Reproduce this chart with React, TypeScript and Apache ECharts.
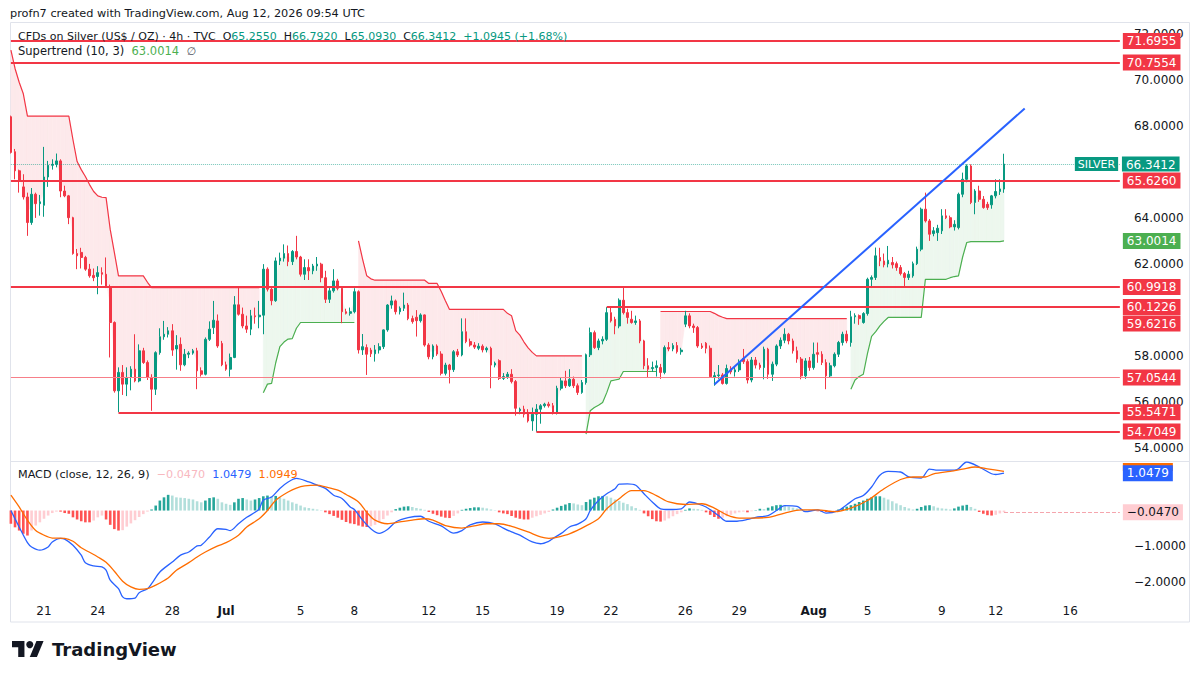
import React, { useEffect, useRef } from "react";
import * as echarts from "echarts";

const FONT = "DejaVu Sans";
const UP = "#089981";
const DOWN = "#f23645";
const TEXT = "#131722";

// Silver CFD, 4h bars, Jun 18 16:00 UTC .. Aug 12 08:00 UTC — [open, high, low, close]
const ohlc: number[][] = [
  [68.40,68.45,66.80,66.85],[66.88,67.00,65.68,66.05],[66.05,66.10,65.10,65.60],[65.35,65.90,64.80,64.91],[64.91,65.10,63.22,63.80],
  [63.80,65.30,63.70,65.03],[65.03,65.10,64.00,64.62],[64.62,65.00,64.10,64.70],[64.55,67.09,64.05,65.78],[65.78,66.48,65.35,66.29],
  [66.29,66.55,66.10,66.33],[66.33,66.80,66.20,66.48],[66.48,66.55,64.90,65.17],[65.17,65.40,64.90,64.96],[64.96,65.00,63.73,64.01],
  [64.01,64.05,62.40,62.45],[62.45,62.65,61.77,62.35],[62.50,62.70,61.80,62.28],[62.28,62.35,61.70,61.77],[61.77,62.00,61.40,61.48],
  [61.50,61.80,61.25,61.40],[61.45,61.90,60.68,61.62],[61.62,61.85,61.10,61.55],[61.55,62.28,60.95,60.97],[60.97,61.10,57.93,59.45],
  [59.45,59.50,56.40,56.48],[56.48,57.50,55.55,57.28],[57.28,57.60,56.30,56.77],[56.77,57.50,56.25,57.06],[57.06,57.55,56.50,57.42],
  [57.42,58.94,56.85,56.91],[56.91,58.50,56.85,58.22],[58.22,58.35,57.65,57.71],[57.71,57.80,56.95,57.06],[57.06,57.20,55.61,56.55],
  [56.55,58.20,56.30,58.14],[58.14,59.20,58.05,58.83],[58.83,59.52,58.70,58.94],[58.94,59.25,58.80,59.09],[59.09,59.38,58.00,58.25],
  [58.30,58.90,57.40,58.45],[58.50,58.80,57.35,57.61],[57.61,58.30,57.55,58.07],[58.07,58.20,57.90,58.12],[58.12,58.30,58.05,58.22],
  [58.22,58.35,56.55,57.35],[57.35,57.50,57.10,57.20],[57.20,58.80,57.15,58.72],[58.72,59.50,58.65,59.16],[59.23,60.39,58.95,59.55],
  [59.52,59.80,58.35,58.43],[58.54,58.65,57.55,57.61],[57.61,57.75,57.35,57.42],[57.42,58.10,57.10,57.93],[57.93,60.60,57.90,60.22],
  [60.22,60.95,59.75,59.81],[59.81,60.10,59.20,59.30],[59.30,59.75,59.00,59.16],[59.16,60.00,58.90,59.74],[59.74,60.10,59.40,59.70],
  [59.70,60.39,59.20,59.77],[59.77,61.99,58.94,61.77],[61.77,61.85,60.80,60.90],[60.90,60.95,60.20,60.40],[60.40,62.28,60.35,62.13],
  [62.13,62.49,61.95,62.25],[62.25,62.85,62.10,62.45],[62.45,62.80,61.90,62.10],[62.10,62.60,61.95,62.54],[62.54,63.22,62.20,62.30],
  [62.30,62.35,61.45,61.55],[61.55,62.20,61.30,61.84],[61.84,62.20,61.30,61.70],[61.70,62.00,61.55,61.91],[61.91,62.30,61.70,61.99],
  [61.99,62.05,61.20,61.40],[61.40,61.70,60.30,60.46],[60.46,60.95,60.30,60.83],[60.83,61.77,60.75,61.26],[61.26,61.35,60.85,60.94],
  [60.94,61.00,59.42,59.92],[59.92,60.05,59.80,59.85],[59.85,60.10,59.75,59.92],[59.92,60.94,59.85,60.79],[60.79,60.85,58.10,58.26],
  [58.26,58.95,58.04,58.40],[58.36,58.50,57.17,58.07],[58.25,58.35,57.95,58.09],[58.09,58.47,57.75,58.26],[58.26,58.55,58.10,58.40],
  [58.40,59.15,58.30,59.13],[59.13,60.25,59.05,60.21],[60.21,60.62,60.05,60.39],[60.39,60.45,59.80,59.92],[59.92,60.15,59.80,60.07],
  [60.07,60.75,59.95,60.21],[60.21,60.30,59.55,59.62],[59.62,59.75,59.40,59.49],[59.68,59.99,58.84,59.53],[59.53,59.85,59.45,59.78],
  [59.78,59.80,58.40,58.47],[58.47,58.55,57.85,57.96],[57.96,58.50,57.85,58.43],[58.43,58.50,58.00,58.08],[58.08,58.20,57.15,57.24],
  [57.24,57.70,57.15,57.60],[57.60,57.65,56.80,57.40],[57.40,58.25,57.30,58.18],[58.18,58.30,57.95,58.04],[58.04,59.63,57.98,59.05],
  [59.05,59.63,58.55,58.62],[58.62,58.75,58.40,58.47],[58.47,58.60,58.30,58.38],[58.33,58.55,58.25,58.42],[58.42,58.50,58.15,58.26],
  [58.26,58.40,58.15,58.33],[58.33,58.40,56.59,57.60],[57.60,57.75,57.50,57.68],[57.79,57.85,56.95,57.02],[57.02,57.25,56.95,57.10],
  [57.10,57.30,57.00,57.20],[57.20,57.42,56.80,56.88],[56.88,56.95,55.40,55.72],[55.61,55.75,55.46,55.68],[55.68,55.83,55.32,55.46],
  [55.54,55.68,55.10,55.17],[55.17,55.75,54.74,55.46],[55.46,55.90,54.70,55.68],[55.68,55.90,55.05,55.83],[55.83,55.96,55.75,55.90],
  [55.90,56.00,55.75,55.83],[55.83,55.95,55.45,55.50],[55.50,56.70,55.45,56.59],[56.59,57.05,56.50,56.91],[56.91,57.35,56.60,56.70],
  [56.70,57.42,56.65,56.98],[56.98,57.10,56.60,56.70],[56.70,56.80,56.30,56.41],[56.41,56.95,56.35,56.84],[56.84,58.10,56.75,58.05],
  [58.05,59.23,57.95,59.01],[59.01,59.10,58.30,58.36],[58.36,58.75,58.25,58.65],[58.65,58.85,58.50,58.72],[58.72,60.12,58.65,59.88],
  [59.88,60.10,59.45,59.52],[59.59,59.70,58.94,59.30],[59.30,60.50,59.20,60.42],[60.42,60.95,59.80,59.88],[59.88,60.05,59.40,59.67],
  [59.59,59.96,59.40,59.45],[59.45,59.75,59.35,59.52],[59.52,59.60,58.55,58.65],[58.65,58.70,57.42,57.57],[57.57,57.90,57.05,57.42],
  [57.45,57.75,57.30,57.49],[57.49,57.80,57.10,57.57],[57.49,57.65,57.00,57.28],[57.28,58.45,57.20,58.36],[58.36,58.60,58.20,58.30],
  [58.30,58.55,58.20,58.45],[58.45,58.60,58.10,58.18],[58.18,58.35,58.05,58.25],[59.38,59.96,59.25,59.74],[59.74,59.85,59.20,59.30],
  [59.30,59.40,59.00,59.23],[59.23,59.30,58.35,58.43],[58.43,58.55,58.30,58.36],[58.55,58.60,58.11,58.33],[58.33,58.45,57.05,57.10],
  [57.07,57.30,56.70,57.14],[57.14,57.60,57.00,57.17],[57.17,57.25,56.75,56.80],[56.80,57.62,56.75,57.45],[57.45,57.55,57.20,57.30],
  [57.30,57.55,57.10,57.39],[57.39,57.85,57.30,57.75],[57.89,58.30,57.65,57.75],[57.75,57.85,56.80,56.95],[56.95,57.95,56.85,57.82],
  [57.82,57.95,57.45,57.60],[57.60,57.70,57.40,57.49],[57.49,58.40,56.98,58.29],[58.29,58.35,57.00,57.20],[57.20,57.75,56.91,57.64],
  [57.64,58.50,57.55,58.43],[58.43,58.80,58.30,58.68],[58.68,59.20,58.55,58.94],[58.94,59.00,58.50,58.65],[58.65,58.75,58.10,58.22],
  [58.22,58.40,57.70,57.86],[57.86,57.95,56.98,57.13],[57.13,57.90,57.00,57.78],[57.78,57.95,57.35,57.49],[57.49,58.58,57.40,58.07],
  [58.14,58.58,57.70,58.07],[58.07,58.20,57.60,57.71],[57.71,57.85,56.55,57.13],[57.13,57.70,57.05,57.57],[57.57,58.15,57.50,58.07],
  [58.07,58.65,57.95,58.58],[58.58,59.05,58.45,58.94],[58.94,59.10,58.55,58.65],[58.58,59.96,58.40,59.70],[59.70,59.85,59.40,59.75],
  [59.75,59.80,59.35,59.62],[59.45,59.90,59.40,59.84],[59.84,61.40,59.75,61.33],[61.33,61.50,60.95,61.41],[61.41,62.71,61.30,62.35],
  [62.28,62.70,61.90,62.13],[62.13,62.45,61.85,61.96],[62.00,62.78,61.85,62.16],[62.06,62.30,61.80,61.96],[62.01,62.10,61.70,61.84],
  [61.84,61.95,61.50,61.58],[61.58,61.65,60.97,61.41],[61.41,61.70,61.30,61.55],[61.48,62.10,61.40,62.01],[62.01,62.75,61.95,62.64],
  [62.64,64.45,62.55,64.38],[64.38,65.10,63.80,63.87],[63.87,63.95,63.00,63.29],[63.32,63.60,63.20,63.44],[63.36,63.70,63.00,63.55],
  [63.44,64.38,63.30,64.09],[64.09,64.38,63.95,64.01],[64.01,64.10,63.55,63.61],[63.61,63.90,63.45,63.72],[63.58,65.10,63.50,65.03],
  [65.03,65.97,64.90,65.68],[65.68,66.33,65.55,66.26],[66.26,66.33,64.60,64.67],[64.67,65.25,64.16,65.17],[65.17,65.40,64.70,64.81],
  [64.81,64.95,64.40,64.45],[64.59,64.70,64.35,64.45],[64.57,65.00,64.40,64.96],[64.96,65.68,64.85,65.15],[65.15,65.68,65.00,65.26],
  [65.255,66.792,65.093,66.3412],
];

// Supertrend (10, 3), one value per bar
const supertrend: number[] = [
  71.30,70.50,69.90,69.40,68.43,68.43,68.43,68.43,68.43,68.43,68.43,68.43,68.43,68.43,68.43,
  67.40,66.45,66.10,65.80,65.45,65.15,64.96,64.90,64.88,63.50,62.50,61.48,
  61.48,61.48,61.48,61.48,61.48,61.48,61.20,
  60.97,60.97,60.97,60.97,60.97,60.97,60.97,60.97,60.97,60.97,60.97,60.97,60.97,60.97,60.97,60.97,60.97,60.97,60.97,60.97,60.97,60.97,60.97,60.97,60.97,60.97,60.97,
  56.40,56.77,56.80,57.70,58.40,58.60,58.73,58.75,59.20,
  59.45,59.45,59.45,59.45,59.45,59.45,59.45,59.45,59.45,59.45,59.45,59.45,59.45,59.45,
  63.00,62.20,61.48,61.35,
  61.29,61.29,61.29,61.29,61.29,61.29,61.29,61.29,61.29,61.29,61.29,61.29,61.29,
  61.15,61.15,61.15,60.80,60.40,
  60.02,60.02,60.02,60.02,60.02,60.02,60.02,60.02,60.02,60.02,60.02,60.02,60.02,60.02,
  59.85,59.74,59.10,58.90,58.60,58.35,58.15,
  58.00,58.00,58.00,58.00,58.00,58.00,58.00,58.00,58.00,58.00,58.00,58.00,
  54.60,55.61,55.75,55.85,55.97,56.40,56.91,56.95,56.99,
  57.32,57.32,57.32,57.32,57.32,57.32,57.32,57.32,57.32,
  59.93,59.93,59.93,59.93,59.93,59.93,59.93,59.93,59.93,59.93,59.93,59.93,59.93,
  59.85,59.75,59.68,
  59.62,59.62,59.62,59.62,59.62,59.62,59.62,59.62,59.62,59.62,59.62,59.62,59.62,59.62,59.62,
  59.62,59.62,59.62,59.62,59.62,59.62,59.62,59.62,59.62,59.62,59.62,59.62,59.62,59.62,59.62,
  56.55,56.95,57.10,57.20,58.10,58.85,59.05,59.30,59.50,
  59.67,59.67,59.67,59.67,59.67,59.67,59.67,59.67,59.67,
  61.33,61.33,61.33,61.33,61.33,61.33,
  61.40,61.45,61.48,62.30,62.93,
  62.97,62.97,62.97,62.97,62.97,62.97,62.97,62.97,
  63.0014,
];

// MACD histogram, one value per bar
const macdHist: number[] = [
  -0.37,-0.47,-0.56,-0.65,-0.70,-0.56,-0.42,-0.33,-0.23,-0.14,-0.07,-0.03,
  -0.03,-0.07,-0.09,-0.19,-0.25,-0.30,-0.33,-0.33,-0.28,-0.19,-0.14,
  -0.25,-0.40,-0.52,-0.56,-0.55,-0.45,-0.36,-0.27,-0.18,-0.10,-0.03,
  0.03,0.14,0.28,0.37,0.44,0.42,0.37,0.36,0.35,0.33,0.31,0.26,0.23,
  0.28,0.35,0.37,0.33,0.23,0.19,0.16,0.23,0.33,0.35,0.31,0.28,0.31,
  0.35,0.40,0.42,0.40,0.41,0.37,0.33,0.28,0.23,0.19,0.14,0.09,0.07,0.05,0.03,0.01,
  -0.05,-0.10,-0.15,-0.20,-0.26,-0.32,-0.36,-0.38,-0.42,-0.45,-0.46,-0.44,-0.40,-0.33,-0.24,-0.14,-0.05,
  0.04,0.08,0.11,0.12,0.10,0.07,0.05,0.02,
  -0.04,-0.09,-0.13,-0.17,-0.20,-0.21,-0.15,-0.08,
  0.02,0.05,0.07,0.09,0.09,0.08,0.06,0.03,0.01,
  -0.05,-0.08,-0.10,-0.15,-0.20,-0.23,-0.25,-0.25,-0.20,-0.16,-0.12,-0.08,-0.04,
  0.03,0.08,0.13,0.17,0.21,0.20,0.17,0.15,
  0.24,0.31,0.36,0.40,0.41,0.40,0.36,0.31,0.27,0.22,0.18,0.12,0.07,0.02,
  -0.08,-0.16,-0.24,-0.30,-0.31,-0.28,-0.22,-0.16,-0.10,-0.05,
  0.02,0.06,0.05,0.04,0.02,
  -0.05,-0.12,-0.18,-0.23,-0.20,-0.16,-0.12,-0.08,-0.05,-0.03,
  -0.05,-0.02,0.01,
  0.05,0.04,0.08,0.12,0.15,0.16,0.14,0.11,0.08,0.06,0.04,0.02,0.01,0.01,
  -0.02,-0.03,-0.04,-0.03,-0.01,
  0.03,0.07,0.11,0.15,0.19,0.24,0.28,0.33,0.37,0.40,0.40,
  0.36,0.31,0.26,0.20,0.15,0.10,0.06,0.03,0.05,
  0.10,0.14,0.15,0.12,0.08,0.06,0.05,0.03,
  0.06,0.11,0.14,0.16,0.10,0.05,
  -0.04,-0.09,-0.13,-0.14,-0.12,-0.08,-0.047,
];

// MACD line and signal line, [bar, value]
const macdLine: number[][] = [
  [0,0.0],[2,-0.46],[4,-0.90],[5,-1.02],[7,-1.11],[9,-1.02],[10,-0.88],[12,-0.78],[13,-0.80],[15,-0.97],[17,-1.25],[18,-1.46],
  [20,-1.55],[22,-1.58],[23,-1.67],[24,-1.95],[26,-2.19],[27,-2.42],[28,-2.47],[30,-2.45],[31,-2.30],[33,-2.19],[34,-2.05],
  [36,-1.72],[39,-1.44],[41,-1.25],[43,-1.16],[45,-0.99],[46,-0.97],[48,-0.74],[50,-0.51],[52,-0.53],[53,-0.56],[55,-0.37],
  [57,-0.19],[59,-0.05],[60,0.05],[61,0.29],[63,0.38],[65,0.62],[67,0.80],[69,0.90],[72,0.80],[74,0.71],[76,0.62],[78,0.43],
  [80,0.34],[82,0.10],[83,0.03],[85,-0.27],[87,-0.51],[89,-0.64],[91,-0.53],[93,-0.32],[96,-0.20],[99,-0.16],[101,-0.30],
  [104,-0.43],[107,-0.63],[109,-0.56],[111,-0.40],[114,-0.32],[117,-0.37],[119,-0.49],[121,-0.60],[123,-0.69],[126,-0.88],
  [128,-0.93],[130,-0.86],[131,-0.78],[133,-0.64],[135,-0.46],[137,-0.38],[139,-0.23],[140,0.0],[142,0.28],[144,0.47],
  [146,0.61],[147,0.74],[149,0.75],[151,0.71],[153,0.47],[155,0.24],[157,0.05],[159,0.03],[162,0.05],[164,0.24],[166,0.19],
  [168,0.10],[171,-0.14],[173,-0.30],[175,-0.30],[178,-0.25],[180,-0.19],[183,-0.14],[185,0.0],[187,0.14],[190,0.12],
  [192,-0.03],[195,0.02],[197,-0.07],[200,0.0],[202,0.16],[204,0.33],[206,0.42],[208,0.66],[210,0.99],[212,1.10],[215,1.08],
  [217,0.94],[220,0.91],[222,1.16],[224,1.13],[228,1.13],[229,1.17],[231,1.36],[234,1.22],[237,1.03],[238,1.01],[240,1.0479],
];
const signalLine: number[][] = [
  [0,0.43],[2,0.10],[4,-0.27],[6,-0.56],[8,-0.69],[10,-0.77],[13,-0.78],[15,-0.86],[17,-1.04],[20,-1.23],[21,-1.30],[23,-1.45],
  [25,-1.70],[27,-1.98],[29,-2.14],[31,-2.21],[33,-2.19],[35,-2.09],[38,-1.89],[40,-1.67],[43,-1.46],[45,-1.30],[47,-1.16],
  [50,-0.99],[52,-0.90],[55,-0.69],[57,-0.46],[60,-0.23],[62,0.0],[64,0.29],[67,0.52],[69,0.63],[71,0.69],[74,0.71],[76,0.66],
  [79,0.57],[81,0.45],[84,0.24],[86,-0.05],[88,-0.27],[91,-0.37],[94,-0.32],[97,-0.27],[100,-0.23],[102,-0.27],[105,-0.42],
  [109,-0.49],[112,-0.43],[115,-0.37],[118,-0.37],[121,-0.44],[125,-0.60],[128,-0.74],[130,-0.78],[134,-0.69],[137,-0.55],
  [139,-0.43],[142,-0.23],[144,0.05],[147,0.33],[150,0.56],[153,0.56],[156,0.42],[159,0.24],[163,0.17],[167,0.19],[170,0.07],
  [173,-0.12],[176,-0.21],[179,-0.21],[183,-0.19],[187,-0.07],[191,0.02],[195,0.02],[199,-0.03],[203,0.07],[207,0.28],
  [211,0.61],[215,0.87],[218,0.94],[221,0.94],[223,1.03],[227,1.10],[230,1.16],[233,1.22],[236,1.17],[240,1.0949],
];

// Horizontal levels drawn on the chart and the bar each one starts from
const levelValues = [71.6955, 70.7554, 65.626, 60.9918, 60.1226, 57.0544, 55.5471, 54.7049];
const levelStartBars = [0, 0, 0, 0, 144, 0, 26, 127];
const trendLine: number[][] = [[170, 56.75], [245, 68.76]];
const lastPrice = 66.3412;
const supertrendLast = 63.0014;
const extraLevel = 59.6216;
const macdLast = 1.0479;
const signalLast = 1.0949;
const histLast = -0.047;

const priceTicks = [54, 56, 58, 62, 64, 68, 70, 72];
const macdTicks = [-1, -2];
const MONTHS = ["Jan","Feb","Mar","Apr","May","Jun","Jul","Aug","Sep","Oct","Nov","Dec"];

const FIRST_BAR = Date.UTC(2026, 5, 18, 16);
const SLOT_COUNT = 269;

function buildBarTimes(): number[] {
  const out: number[] = [];
  let t = FIRST_BAR;
  while (out.length < SLOT_COUNT) {
    const d = new Date(t);
    const dow = d.getUTCDay();
    const h = d.getUTCHours();
    const open = dow === 6 ? false : dow === 0 ? h >= 20 : true;
    if (open) out.push(t);
    t += 4 * 3600 * 1000;
  }
  return out;
}

const barTimes = buildBarTimes();
const categories = barTimes.map(String);
const LAST_SLOT = SLOT_COUNT - 1;
const LAST_BAR = ohlc.length - 1;
const HIDDEN_LINE = { color: "rgba(0,0,0,0)", width: 1, type: "solid" };

function isLabelBar(ms: number) {
  const d = new Date(ms);
  const dow = d.getUTCDay();
  const h = d.getUTCHours();
  return (dow === 0 && h === 20) || (dow === 3 && h === 0);
}
function timeLabel(ms: number) {
  const d = new Date(ms);
  const day = d.getUTCDate();
  const gap = d.getUTCDay() === 0 ? 4 : 3;
  return day <= gap ? `{m|${MONTHS[d.getUTCMonth()]}}` : String(day);
}

function boxLabel(bg: string, fg: string, text: string, offsetY = 0) {
  return {
    show: true,
    position: "end",
    distance: 3,
    formatter: text,
    backgroundColor: bg,
    color: fg,
    opacity: 1,
    padding: [2, 4, 1, 4],
    fontSize: 12,
    lineHeight: 13,
    fontFamily: FONT,
    offset: [0, offsetY],
  };
}

export default function App() {
  const ref = useRef<HTMLDivElement>(null);

  useEffect(() => {
    if (!ref.current) return;
    const chart = echarts.init(ref.current, null, { renderer: "svg" });

    const closes = ohlc.map((r) => r[3]);
    const mids = ohlc.map((r) => (r[0] + r[3]) / 2);
    const dir = supertrend.map((s, i) => (s > closes[i] ? -1 : 1));
    const stDown = supertrend.map((s, i) => (dir[i] === -1 ? s : null));
    const stUp = supertrend.map((s, i) => (dir[i] === 1 ? s : null));

    const histData = macdHist.map((h, i) => {
      const prev = i > 0 ? macdHist[i - 1] : h;
      let c;
      if (h >= 0) c = h >= prev ? "#26a69a" : "#b2dfdb";
      else c = h <= prev ? "#ff5252" : "#ffcdd2";
      return { value: h, itemStyle: { color: c } };
    });

    const levelLines = levelValues.map((v, k) => {
      const thin = v === 57.0544;
      return [
        {
          coord: [levelStartBars[k], v],
          lineStyle: { color: thin ? "#f77f89" : DOWN, width: thin ? 1 : 2, type: "solid" },
          label: boxLabel(DOWN, "#ffffff", v.toFixed(4)),
        },
        { coord: [LAST_SLOT, v] },
      ];
    });

    const mainMarks = [
      ...levelLines,
      [
        { coord: [LAST_BAR, extraLevel], lineStyle: HIDDEN_LINE, label: boxLabel(DOWN, "#ffffff", extraLevel.toFixed(4), 5) },
        { coord: [LAST_SLOT, extraLevel] },
      ],
      [
        { coord: [LAST_BAR, supertrendLast], lineStyle: HIDDEN_LINE, label: boxLabel("#4caf50", "#ffffff", supertrendLast.toFixed(4)) },
        { coord: [LAST_SLOT, supertrendLast] },
      ],
      [
        {
          coord: [0, lastPrice],
          lineStyle: { color: "rgba(8,153,129,0.55)", width: 1, type: "dotted" },
          label: {
            show: true,
            position: "end",
            distance: 3,
            offset: [-48, 0],
            formatter: `{s|SILVER} {v|${lastPrice.toFixed(4)}}`,
            rich: {
              s: { backgroundColor: UP, color: "#fff", padding: [2, 3, 1, 3], fontSize: 11, lineHeight: 13, fontFamily: FONT },
              v: { backgroundColor: UP, color: "#fff", padding: [2, 4, 1, 4], fontSize: 12, lineHeight: 13, fontFamily: FONT },
            },
          },
        },
        { coord: [LAST_SLOT, lastPrice] },
      ],
      [
        { coord: trendLine[0], lineStyle: { color: "#2962ff", width: 2, type: "solid" }, label: { show: false } },
        { coord: trendLine[1] },
      ],
    ];

    const macdMarks = [
      [
        {
          coord: [LAST_BAR, signalLast],
          lineStyle: HIDDEN_LINE,
          label: {
            show: true,
            position: "end",
            distance: 3,
            offset: [0, -4.5],
            formatter: "{a| }",
            rich: { a: { width: 50, height: 8, lineHeight: 8, fontSize: 6, backgroundColor: "#ff6d00" } },
          },
        },
        { coord: [LAST_SLOT, signalLast] },
      ],
      [
        { coord: [LAST_BAR, macdLast], lineStyle: HIDDEN_LINE, label: boxLabel("#2962ff", "#ffffff", macdLast.toFixed(4)) },
        { coord: [LAST_SLOT, macdLast] },
      ],
      [
        {
          coord: [LAST_BAR, histLast],
          lineStyle: { color: "#f5a5ad", width: 1, type: "dashed" },
          label: boxLabel("#ffcdd2", TEXT, "\u2212" + Math.abs(histLast).toFixed(4)),
        },
        { coord: [LAST_SLOT, histLast] },
      ],
    ];

    const gridBase = { left: 8.83, width: 1113.1, outerBoundsMode: "none", containLabel: false };
    const hiddenX = (i: number) => ({
      type: "category",
      gridIndex: i,
      data: categories,
      boundaryGap: true,
      axisLine: { show: false },
      axisTick: { show: false },
      splitLine: { show: false },
      axisLabel: { show: false },
    });

    const option: any = {
      animation: false,
      backgroundColor: "#ffffff",
      textStyle: { fontFamily: FONT },
      grid: [
        { ...gridBase, top: 27.1, height: 466.7 },
        { ...gridBase, top: 462, height: 155.65 },
        { ...gridBase, top: 602, height: 1 },
      ],
      xAxis: [
        hiddenX(0),
        hiddenX(1),
        {
          ...hiddenX(2),
          axisLabel: {
            show: true,
            margin: 2,
            color: TEXT,
            fontSize: 12,
            fontFamily: FONT,
            interval: (index: number) => isLabelBar(barTimes[index]),
            formatter: (value: string) => timeLabel(Number(value)),
            rich: { m: { fontWeight: "bold", fontSize: 12, fontFamily: FONT, color: TEXT } },
          },
        },
      ],
      yAxis: [
        {
          type: "value",
          gridIndex: 0,
          position: "right",
          min: 52,
          max: 72.3,
          interval: 2,
          axisLine: { show: false },
          axisTick: { show: false },
          splitLine: { show: false },
          axisLabel: {
            margin: 12,
            color: TEXT,
            fontSize: 12,
            fontFamily: FONT,
            formatter: (v: number) => (priceTicks.some((t) => Math.abs(t - v) < 1e-6) ? v.toFixed(4) : ""),
          },
        },
        {
          type: "value",
          gridIndex: 1,
          position: "right",
          min: -3,
          max: 1.36,
          interval: 1,
          axisLine: { show: false },
          axisTick: { show: false },
          splitLine: { show: false },
          axisLabel: {
            margin: 12,
            color: TEXT,
            fontSize: 12,
            fontFamily: FONT,
            formatter: (v: number) =>
              macdTicks.some((t) => Math.abs(t - v) < 1e-6) ? "\u2212" + Math.abs(v).toFixed(4) : "",
          },
        },
        { type: "value", gridIndex: 2, show: false },
      ],
      series: [
        {
          type: "custom",
          xAxisIndex: 0,
          yAxisIndex: 0,
          z: 1,
          silent: true,
          data: supertrend.map((s, i) => [i, s]),
          encode: { x: 0, y: 1 },
          renderItem: (params: any, api: any) => {
            const i = params.dataIndex;
            if (i >= supertrend.length - 1) return null;
            if (dir[i] !== dir[i + 1]) return null;
            const p0 = api.coord([i, supertrend[i]]);
            const p1 = api.coord([i + 1, supertrend[i + 1]]);
            const p2 = api.coord([i + 1, mids[i + 1]]);
            const p3 = api.coord([i, mids[i]]);
            const col = dir[i] === 1 ? "#edf7ee" : "#fde9eb";
            return {
              type: "polygon",
              shape: { points: [p0, p1, p2, p3] },
              style: { fill: col, stroke: col, lineWidth: 0.6 },
            };
          },
        },
        {
          type: "line",
          xAxisIndex: 0,
          yAxisIndex: 0,
          z: 2,
          data: stDown,
          showSymbol: false,
          symbol: "none",
          connectNulls: false,
          lineStyle: { color: DOWN, width: 1.2 },
          silent: true,
        },
        {
          type: "line",
          xAxisIndex: 0,
          yAxisIndex: 0,
          z: 2,
          data: stUp,
          showSymbol: false,
          symbol: "none",
          connectNulls: false,
          lineStyle: { color: "#4caf50", width: 1.2 },
          silent: true,
        },
        {
          type: "candlestick",
          xAxisIndex: 0,
          yAxisIndex: 0,
          z: 3,
          barWidth: 2.2,
          data: ohlc.map((r) => [r[0], r[3], r[2], r[1]]),
          itemStyle: { color: UP, color0: DOWN, borderColor: UP, borderColor0: DOWN, borderWidth: 1 },
          silent: true,
          markLine: { symbol: ["none", "none"], silent: true, animation: false, data: mainMarks },
        },
        {
          type: "bar",
          xAxisIndex: 1,
          yAxisIndex: 1,
          barWidth: 2.6,
          data: histData,
          silent: true,
          markLine: { symbol: ["none", "none"], silent: true, animation: false, data: macdMarks },
        },
        {
          type: "line",
          xAxisIndex: 1,
          yAxisIndex: 1,
          data: macdLine,
          showSymbol: false,
          symbol: "none",
          smooth: 0.3,
          lineStyle: { color: "#2962ff", width: 1.3 },
          silent: true,
          z: 4,
        },
        {
          type: "line",
          xAxisIndex: 1,
          yAxisIndex: 1,
          data: signalLine,
          showSymbol: false,
          symbol: "none",
          smooth: 0.3,
          lineStyle: { color: "#ff6d00", width: 1.3 },
          silent: true,
          z: 4,
        },
        { type: "line", xAxisIndex: 2, yAxisIndex: 2, data: [], silent: true },
      ],
      graphic: [
        {
          type: "rect",
          silent: true,
          shape: { x: 10.5, y: 22.5, width: 1179, height: 599.5 },
          style: { fill: "none", stroke: "#e0e3eb", lineWidth: 1 },
          z: 0,
        },
        {
          type: "line",
          silent: true,
          shape: { x1: 10.5, y1: 461.5, x2: 1189.5, y2: 461.5 },
          style: { stroke: "#e0e3eb", lineWidth: 1 },
        },
        {
          type: "text",
          x: 10,
          y: 13,
          silent: true,
          style: {
            text: "profn7 created with TradingView.com, Aug 12, 2026 09:54 UTC",
            fill: TEXT,
            fontSize: 11.3,
            fontFamily: FONT,
            verticalAlign: "middle",
          },
        },
        {
          type: "text",
          x: 18,
          y: 36,
          silent: true,
          z: 10,
          style: {
            text:
              "{d|CFDs on Silver (US$ / OZ) \u00b7 4h \u00b7 TVC}  {d|O}{v|65.2550}  {d|H}{v|66.7920}  {d|L}{v|65.0930}  {d|C}{v|66.3412}  {v|+1.0945 (+1.68%)}",
            fill: TEXT,
            fontSize: 11,
            fontFamily: FONT,
            verticalAlign: "middle",
            rich: {
              d: { fill: TEXT, fontSize: 11, fontFamily: FONT },
              v: { fill: UP, fontSize: 11, fontFamily: FONT },
            },
          },
        },
        {
          type: "text",
          x: 18,
          y: 51,
          silent: true,
          z: 10,
          style: {
            text: "{d|Supertrend (10, 3)}  {g|63.0014}  {s|\u2205}",
            fill: TEXT,
            fontSize: 11.5,
            fontFamily: FONT,
            verticalAlign: "middle",
            rich: {
              d: { fill: TEXT, fontSize: 11.5, fontFamily: FONT },
              g: { fill: "#4caf50", fontSize: 11.5, fontFamily: FONT },
              s: { fill: "#50535e", fontSize: 11, fontFamily: FONT },
            },
          },
        },
        {
          type: "text",
          x: 18,
          y: 474,
          silent: true,
          z: 10,
          style: {
            text: "{d|MACD (close, 12, 26, 9)}  {p|\u22120.0470}  {b|1.0479}  {o|1.0949}",
            fill: TEXT,
            fontSize: 11.2,
            fontFamily: FONT,
            verticalAlign: "middle",
            rich: {
              d: { fill: TEXT, fontSize: 11.2, fontFamily: FONT },
              p: { fill: "#f8b8bf", fontSize: 11.2, fontFamily: FONT },
              b: { fill: "#2962ff", fontSize: 11.2, fontFamily: FONT },
              o: { fill: "#ff6d00", fontSize: 11.2, fontFamily: FONT },
            },
          },
        },
        {
          type: "group",
          x: 12,
          y: 641 - 4 * 0.889,
          scaleX: 0.889,
          scaleY: 0.889,
          silent: true,
          children: [
            { type: "polygon", shape: { points: [[14, 22], [7, 22], [7, 11], [0, 11], [0, 4], [14, 4]] }, style: { fill: TEXT } },
            { type: "circle", shape: { cx: 20, cy: 8, r: 4 }, style: { fill: TEXT } },
            { type: "polygon", shape: { points: [[28, 22], [20, 22], [27.5, 4], [35.5, 4]] }, style: { fill: TEXT } },
          ],
        },
        {
          type: "text",
          x: 52,
          y: 649,
          silent: true,
          style: {
            text: "TradingView",
            fill: TEXT,
            fontSize: 18,
            fontWeight: "bold",
            fontFamily: FONT,
            verticalAlign: "middle",
          },
        },
      ],
    };

    chart.setOption(option);
    return () => chart.dispose();
  }, []);

  return (
    <div
      ref={ref}
      style={{ position: "fixed", left: 0, top: 0, width: 1200, height: 675, background: "#ffffff" }}
    />
  );
}
